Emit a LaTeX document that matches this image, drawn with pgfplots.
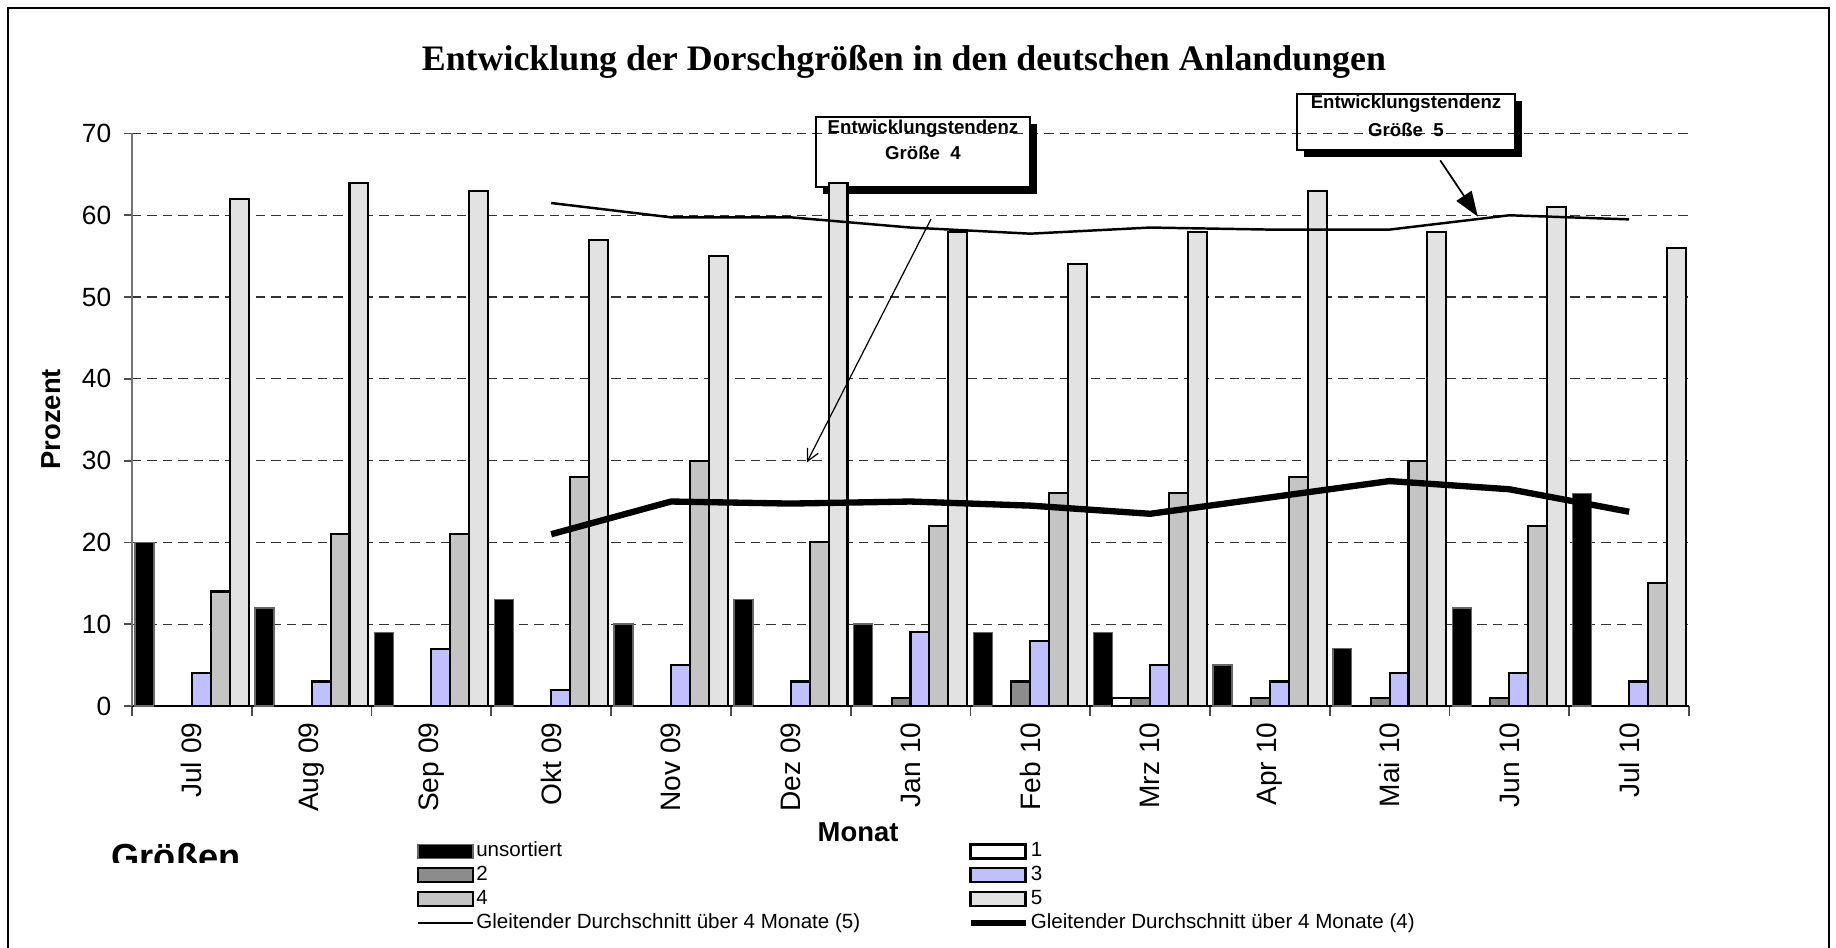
\documentclass[border=0pt]{standalone}
\usepackage{fontspec}
\setmainfont{Liberation Sans}
\newfontfamily\titlefont{Liberation Serif}
\usepackage{pgfplots}
\pgfplotsset{compat=1.18}
\usetikzlibrary{arrows.meta}
\definecolor{lav}{RGB}{192,192,255}
\definecolor{gtwo}{RGB}{140,140,140}
\definecolor{gfour}{RGB}{196,196,196}
\definecolor{gfive}{RGB}{226,226,226}
\pgfplotsset{
  barleg/.style={legend image code/.code={\draw[##1] (0cm,-0.07cm) rectangle (0.55cm,0.07cm);}},
  lineleg/.style={legend image code/.code={\draw[##1] (0cm,0cm) -- (0.55cm,0cm);}},
}
\begin{document}
\begin{tikzpicture}
\useasboundingbox (0,0) rectangle (18.36,9.48);
\draw[line width=0.5pt] (0.08,-0.3) -- (0.08,9.40) -- (18.29,9.40) -- (18.29,-0.3);
\begin{scope}
\clip (0,0.85) rectangle (4,2);
\node[anchor=north west, inner sep=0pt, font=\bfseries\fontsize{10.3}{11}\selectfont] at (1.11,1.05) {Größen};
\end{scope}
\begin{axis}[
  at={(1.32cm,2.42cm)}, anchor=south west,
  scale only axis, width=15.57cm, height=5.725cm,
  xmin=-0.5, xmax=12.5, ymin=0, ymax=70,
  clip=false,
  ybar=0pt, bar width=0.158,
  axis x line*=bottom, axis y line*=left,
  x axis line style={black, line width=0.6pt},
  y axis line style={black!55, line width=0.6pt},
  ytick={0,10,...,70},
  xtick={0,...,12},
  xticklabels={Jul 09,Aug 09,Sep 09,Okt 09,Nov 09,Dez 09,Jan 10,Feb 10,Mrz 10,Apr 10,Mai 10,Jun 10,Jul 10},
  minor xtick={-0.5,0.5,...,12.5},
  major x tick style={draw=none},
  minor x tick style={black!70, line width=0.5pt},
  y tick style={black!70, line width=0.5pt},
  tick align=outside,
  major tick length=0.08cm, minor tick length=0.1cm,
  ymajorgrids,
  major grid style={black!80, line width=0.35pt, dash pattern=on 2.7pt off 1.7pt},
  /pgf/number format/assume math mode=true,
  yticklabel style={inner sep=0pt, font=\fontsize{7.5}{9}\selectfont},
  xticklabel style={rotate=90, anchor=east, inner sep=0pt, font=\fontsize{8}{9}\selectfont},
  xticklabel shift=0.08cm,
  yticklabel shift=0.12cm,
  every axis title shift=0pt,
  title={Entwicklung der Dorschgrößen in den deutschen Anlandungen},
  title style={at={(axis description cs:0.4958,1.125)}, anchor=center, font=\titlefont\bfseries\fontsize{10.2}{12}\selectfont},
  ylabel={Prozent},
  ylabel style={at={(axis description cs:-0.0517,0.501)}, anchor=center, rotate=0, font=\bfseries\fontsize{7.8}{9}\selectfont},
  xlabel={Monat},
  xlabel style={at={(axis description cs:0.4663,-0.221)}, anchor=center, font=\bfseries\fontsize{7.8}{9}\selectfont},
  legend columns=2,
  legend cell align=left,
  legend style={at={(axis description cs:0.1824,-0.232)}, anchor=north west, draw=none, fill=none, inner sep=0pt,
    font=\fontsize{5.85}{7}\selectfont,
    /tikz/every even column/.append style={column sep=1.05cm},
    nodes={inner sep=0.6pt, text height=4.2pt, text depth=1.4pt}},
]
% callout boxes (transparent, with shadow)
\draw[line width=0.6pt] (axis cs:5.211,72.01) rectangle (axis cs:7.0,63.46);
\draw[line width=0.07cm] ([xshift=0.035cm,yshift=-0.07cm]axis cs:7.0,72.01) -- ([xshift=0.035cm,yshift=-0.035cm]axis cs:7.0,63.46) -- ([xshift=0.07cm,yshift=-0.035cm]axis cs:5.211,63.46);
\node[font=\bfseries\fontsize{5.3}{6}\selectfont] at (axis cs:6.104,70.54) {Entwicklungstendenz};
\node[font=\bfseries\fontsize{5.3}{6}\selectfont] at (axis cs:6.104,67.61) {Größe\ \ 4};
\draw[line width=0.6pt] (axis cs:9.227,74.83) rectangle (axis cs:11.047,67.98);
\draw[line width=0.07cm] ([xshift=0.035cm,yshift=-0.07cm]axis cs:11.047,74.83) -- ([xshift=0.035cm,yshift=-0.035cm]axis cs:11.047,67.98) -- ([xshift=0.07cm,yshift=-0.035cm]axis cs:9.227,67.98);
\node[font=\bfseries\fontsize{5.3}{6}\selectfont] at (axis cs:10.137,73.6) {Entwicklungstendenz};
\node[font=\bfseries\fontsize{5.3}{6}\selectfont] at (axis cs:10.137,70.42) {Größe\ \ 5};

\addplot[barleg, fill=black, draw=black!60, line width=0.4pt, bar shift=-0.395] coordinates {
 (0,20) (1,12) (2,9) (3,13) (4,10) (5,13) (6,10) (7,9) (8,9) (9,5) (10,7) (11,12) (12,26)};
\addlegendentry{unsortiert}
\addplot[barleg, fill=white, draw=black, line width=0.6pt, bar shift=-0.237] coordinates {
 (0,0) (1,0) (2,0) (3,0) (4,0) (5,0) (6,0) (7,0) (8,1) (9,0) (10,0) (11,0) (12,0)};
\addlegendentry{1}
\addplot[barleg, fill=gtwo, draw=black, line width=0.6pt, bar shift=-0.079] coordinates {
 (0,0) (1,0) (2,0) (3,0) (4,0) (5,0) (6,1) (7,3) (8,1) (9,1) (10,1) (11,1) (12,0)};
\addlegendentry{2}
\addplot[barleg, fill=lav, draw=black, line width=0.6pt, bar shift=0.079] coordinates {
 (0,4) (1,3) (2,7) (3,2) (4,5) (5,3) (6,9) (7,8) (8,5) (9,3) (10,4) (11,4) (12,3)};
\addlegendentry{3}
\addplot[barleg, fill=gfour, draw=black, line width=0.6pt, bar shift=0.237] coordinates {
 (0,14) (1,21) (2,21) (3,28) (4,30) (5,20) (6,22) (7,26) (8,26) (9,28) (10,30) (11,22) (12,15)};
\addlegendentry{4}
\addplot[barleg, fill=gfive, draw=black, line width=0.6pt, bar shift=0.395] coordinates {
 (0,62) (1,64) (2,63) (3,57) (4,55) (5,64) (6,58) (7,54) (8,58) (9,63) (10,58) (11,61) (12,56)};
\addlegendentry{5}
\addplot[lineleg, sharp plot, black, line width=0.7pt, mark=none] coordinates {
 (3,61.5) (4,59.75) (5,59.75) (6,58.5) (7,57.75) (8,58.5) (9,58.25) (10,58.25) (11,60) (12,59.5)};
\addlegendentry{Gleitender Durchschnitt über 4 Monate (5)}
\addplot[lineleg, sharp plot, black, line width=1.8pt, mark=none] coordinates {
 (3,21) (4,25) (5,24.75) (6,25) (7,24.5) (8,23.5) (9,25.5) (10,27.5) (11,26.5) (12,23.75)};
\addlegendentry{Gleitender Durchschnitt über 4 Monate (4)}

\draw[line width=0.35pt, -{Straight Barb[length=0.12cm, width=0.12cm]}] (axis cs:6.171,59.54) -- (axis cs:5.134,29.77);
\draw[line width=0.5pt, -{Triangle[length=0.25cm, width=0.18cm]}] (axis cs:10.423,66.71) -- (axis cs:10.737,59.84);
\end{axis}
\end{tikzpicture}
\end{document}
